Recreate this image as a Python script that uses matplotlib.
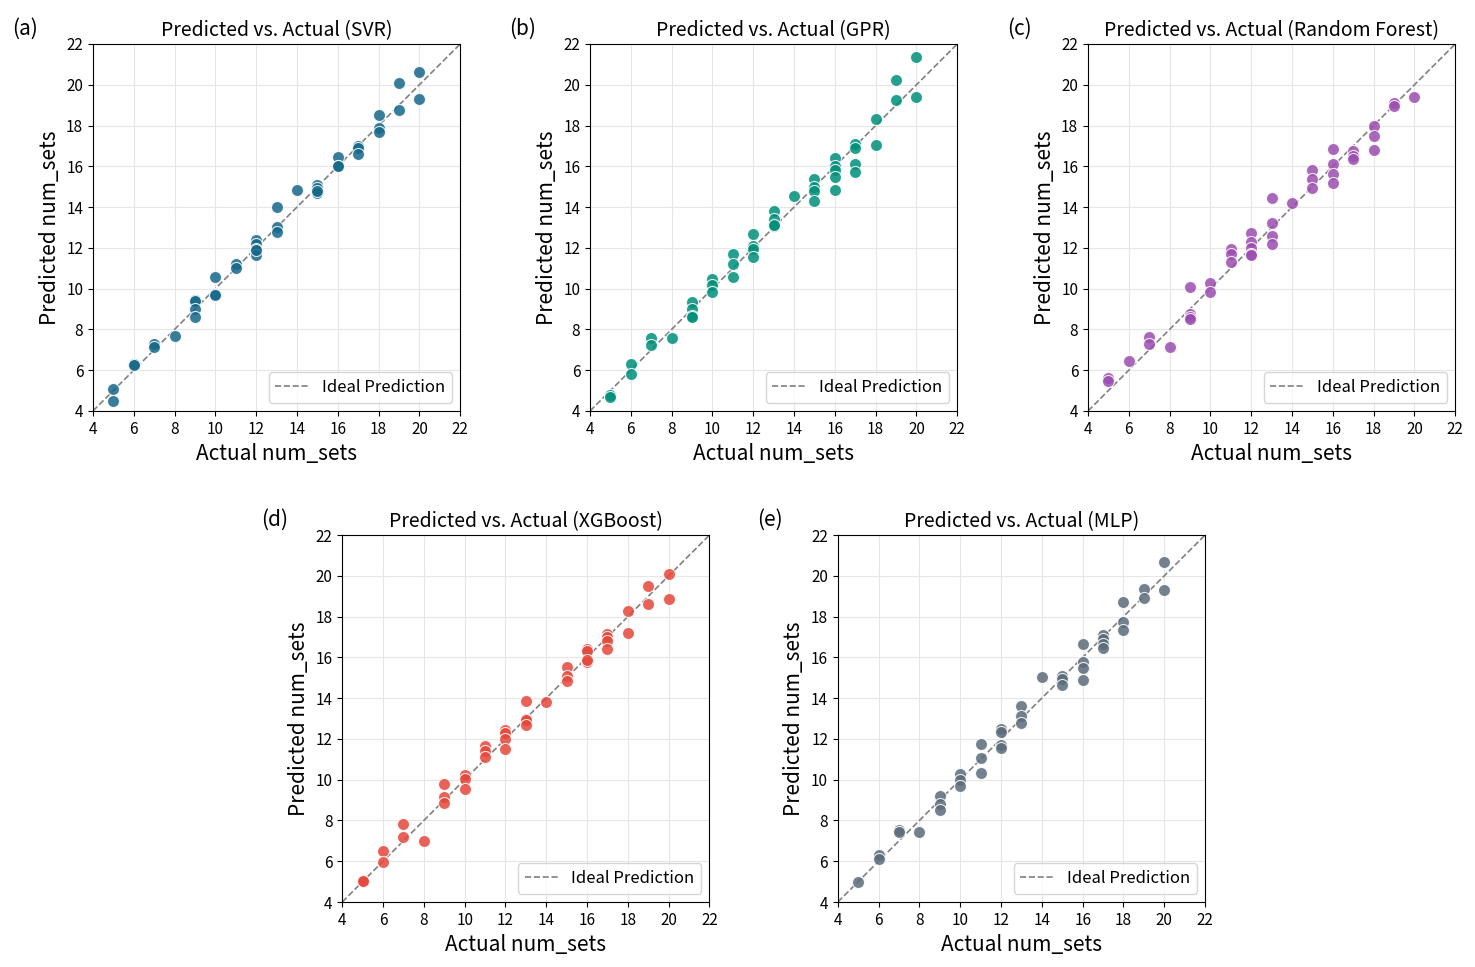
"""
Predicted vs. actual scatter plots for five regression models
"""

import matplotlib
matplotlib.use('agg')
import matplotlib.pyplot as plt

plt.rcParams['font.family'] = ['Noto Sans CJK KR', 'DejaVu Sans']

svr_x = [5, 5, 6, 6, 7, 7, 8, 9, 9, 9, 9, 10, 10, 10, 11, 11, 12, 12, 12, 12, 12,
         13, 13, 13, 14, 15, 15, 15, 15, 16, 16, 16, 17, 17, 17, 18, 18, 18, 19, 19, 20, 20]
svr_y = [5.1, 4.5, 6.3, 6.25, 7.3, 7.15, 7.7, 9.45, 9.4, 9.0, 8.6, 10.55, 9.75, 9.7,
         11.2, 11.0, 12.4, 12.2, 11.95, 11.65, 11.9, 14.0, 13.0, 12.8, 14.85,
         15.1, 14.95, 14.7, 14.8, 16.45, 16.0, 16.0, 17.0, 16.9, 16.6,
         18.5, 17.9, 17.7, 20.1, 18.75, 20.65, 19.3]

gpr_x = [5, 5, 6, 6, 7, 7, 8, 9, 9, 9, 9, 10, 10, 10, 11, 11, 11, 12, 12, 12, 12,
         13, 13, 13, 13, 14, 15, 15, 15, 15, 16, 16, 16, 16, 16, 17, 17, 17, 17,
         18, 18, 19, 19, 20, 20]
gpr_y = [4.8, 4.7, 6.3, 5.8, 7.6, 7.25, 7.6, 9.35, 9.0, 8.65, 8.6, 10.45, 10.2, 9.85,
         11.7, 11.2, 10.55, 12.7, 12.1, 11.95, 11.55, 13.8, 13.4, 13.05, 13.1, 14.55,
         15.4, 15.0, 14.8, 14.3, 16.4, 16.0, 15.8, 15.5, 14.85, 17.1, 16.9, 16.1, 15.7,
         18.3, 17.05, 20.25, 19.25, 21.35, 19.4]

rf_x = [5, 5, 6, 7, 7, 8, 9, 9, 9, 9, 10, 10, 11, 11, 11, 12, 12, 12, 12, 12,
        13, 13, 13, 13, 14, 15, 15, 15, 16, 16, 16, 16, 17, 17, 17, 18, 18, 18, 19, 19, 20]
rf_y = [5.6, 5.45, 6.45, 7.65, 7.3, 7.15, 10.1, 8.75, 8.6, 8.5, 10.3, 9.85,
        11.95, 11.7, 11.3, 12.75, 12.3, 12.0, 11.7, 11.65, 14.45, 13.2, 12.6, 12.2,
        14.2, 15.8, 15.4, 14.95, 16.85, 16.1, 15.6, 15.2, 16.75, 16.5, 16.35,
        18.0, 17.5, 16.8, 19.1, 18.95, 19.4]

xgb_x = [5, 5, 6, 6, 7, 7, 8, 9, 9, 9, 10, 10, 10, 11, 11, 11, 12, 12, 12, 12,
         13, 13, 13, 13, 14, 15, 15, 15, 16, 16, 16, 16, 17, 17, 17, 17, 18, 18, 19, 19, 20, 20]
xgb_y = [5.05, 5.05, 6.5, 5.95, 7.85, 7.2, 7.0, 9.8, 9.15, 8.85, 10.25, 10.05, 9.55,
         11.65, 11.4, 11.1, 12.45, 12.3, 12.0, 11.5, 13.85, 13.0, 12.95, 12.7, 13.8,
         15.55, 15.1, 14.85, 16.4, 16.3, 15.75, 15.85, 17.15, 17.0, 16.8, 16.4,
         18.25, 17.2, 19.5, 18.6, 20.1, 18.85]

mlp_x = [5, 6, 6, 7, 7, 8, 9, 9, 9, 10, 10, 10, 11, 11, 11, 12, 12, 12, 12,
         13, 13, 13, 14, 15, 15, 15, 16, 16, 16, 16, 17, 17, 17, 17, 18, 18, 18, 19, 19, 20, 20]
mlp_y = [5.0, 6.3, 6.1, 7.55, 7.45, 7.45, 9.2, 8.8, 8.5, 10.3, 10.0, 9.7,
         11.75, 11.05, 10.35, 12.5, 12.35, 11.7, 11.55, 13.6, 13.1, 12.8, 15.05,
         15.1, 14.95, 14.65, 16.65, 15.75, 15.5, 14.9, 17.1, 16.9, 16.65, 16.45,
         18.7, 17.75, 17.35, 19.35, 18.9, 20.7, 19.3]

models = ['SVR', 'GPR', 'Random Forest', 'XGBoost', 'MLP']
letters = ['(a)', '(b)', '(c)', '(d)', '(e)']
colors = ['#15688a', '#008f7a', '#9b4db0', '#e5473b', '#5b6b7a']
data = [(svr_x, svr_y), (gpr_x, gpr_y), (rf_x, rf_y), (xgb_x, xgb_y), (mlp_x, mlp_y)]

# axes rectangles in figure fractions
positions = [(0.063, 0.575), (0.400, 0.575), (0.7376, 0.575),
             (0.232, 0.0672), (0.568, 0.0672)]
w, h = 0.249, 0.3795

fig = plt.figure(figsize=(14.75, 9.67), dpi=100)
for i, (model, (xs, ys)) in enumerate(zip(models, data)):
    left, bottom = positions[i]
    ax = fig.add_axes([left, bottom, w, h])
    ax.grid(True, color='#e6e6e6', linewidth=0.8, zorder=0)
    ax.set_axisbelow(True)
    ax.scatter(xs, ys, s=75, color=colors[i], alpha=0.85,
               edgecolors='white', linewidths=0.8, zorder=3)
    ax.plot([4, 22], [4, 22], linestyle='--', color='gray', linewidth=1.2,
            label='Ideal Prediction', zorder=2)
    ax.set_xlim(4, 22)
    ax.set_ylim(4, 22)
    ax.set_xticks(range(4, 23, 2))
    ax.set_yticks(range(4, 23, 2))
    ax.tick_params(labelsize=11)
    ax.set_title(f'Predicted vs. Actual ({model})', fontsize=14)
    ax.set_xlabel('Actual num_sets', fontsize=15)
    ax.set_ylabel('Predicted num_sets', fontsize=15)
    ax.legend(loc='lower right', fontsize=12)
    fig.text(left - 0.055, bottom + h + 0.01, letters[i], fontsize=15)

fig.savefig('out.png', dpi=100)
